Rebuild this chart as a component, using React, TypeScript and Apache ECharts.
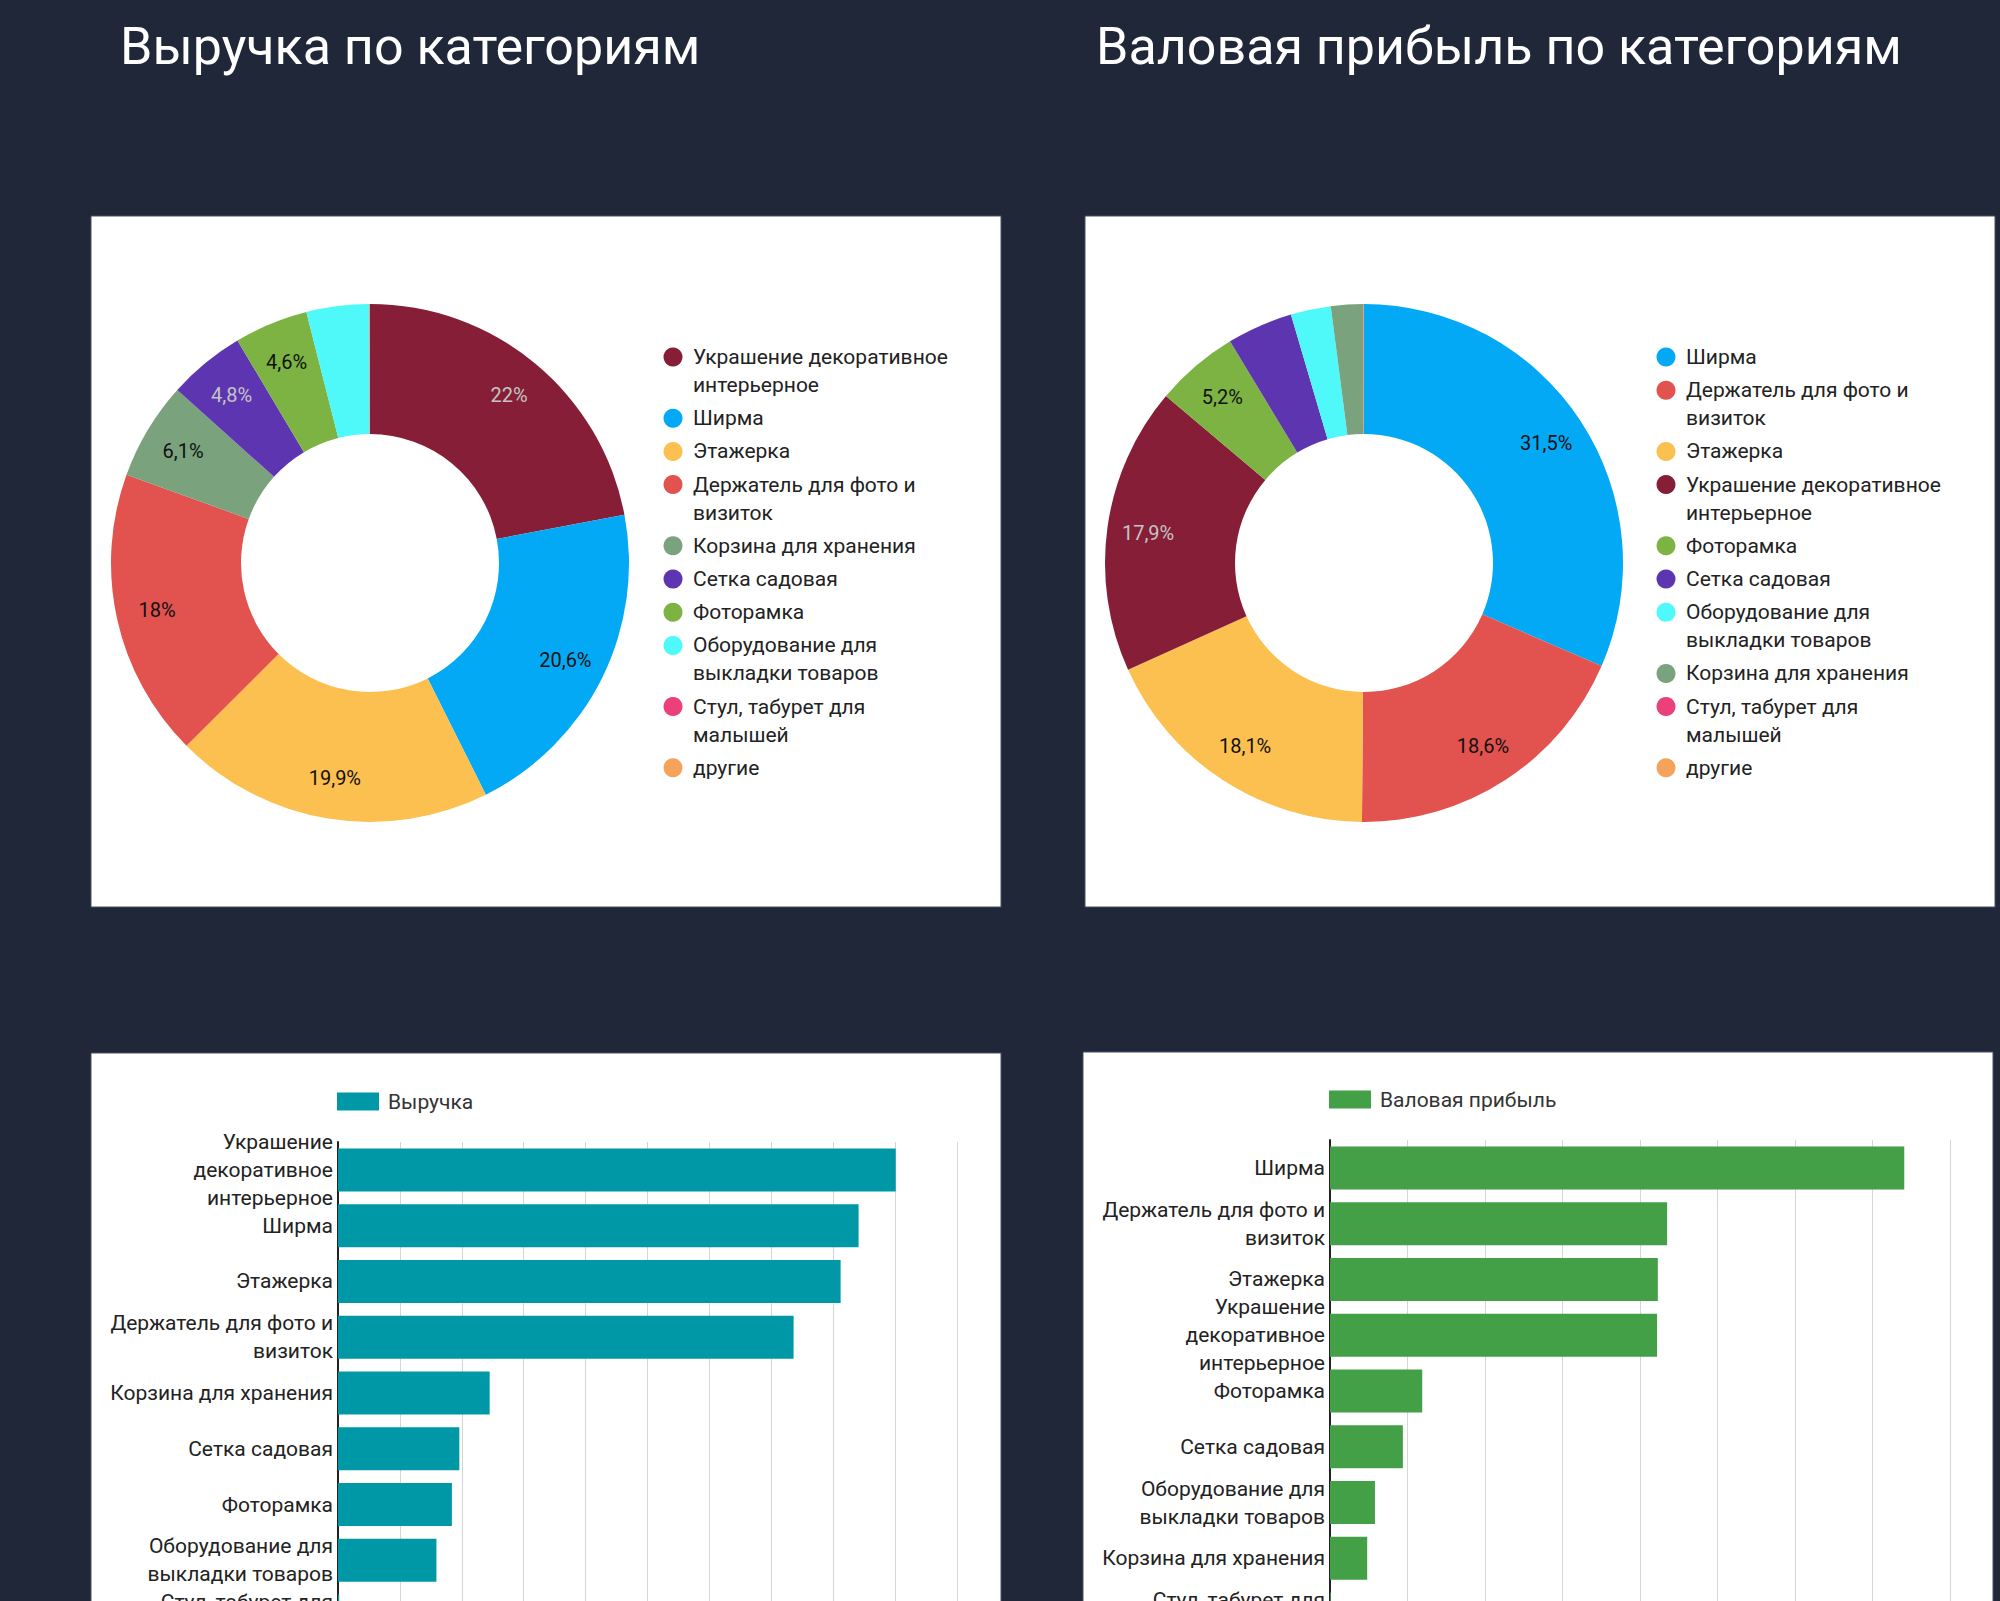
import React, { useEffect, useRef } from 'react';
import * as echarts from 'echarts';

// ---------- DATA ----------
const revenueCategories = [
  'Украшение декоративное интерьерное',
  'Ширма',
  'Этажерка',
  'Держатель для фото и визиток',
  'Корзина для хранения',
  'Сетка садовая',
  'Фоторамка',
  'Оборудование для выкладки товаров',
  'Стул, табурет для малышей',
  'другие',
];
const revenueShares = [22, 20.6, 19.9, 18, 6.1, 4.8, 4.6, 3.9, 0.03, 0.02];

const profitCategories = [
  'Ширма',
  'Держатель для фото и визиток',
  'Этажерка',
  'Украшение декоративное интерьерное',
  'Фоторамка',
  'Сетка садовая',
  'Оборудование для выкладки товаров',
  'Корзина для хранения',
  'Стул, табурет для малышей',
  'другие',
];
const profitShares = [31.5, 18.6, 18.1, 17.9, 5.2, 4.1, 2.5, 2.0, 0.03, 0.02];

const revenueBarCategories = [
  'Украшение декоративное интерьерное',
  'Ширма',
  'Этажерка',
  'Держатель для фото и визиток',
  'Корзина для хранения',
  'Сетка садовая',
  'Фоторамка',
  'Оборудование для выкладки товаров',
  'Стул, табурет для малышей',
];
const revenueBarValues = [9.01, 8.41, 8.12, 7.36, 2.45, 1.96, 1.84, 1.59, 0.02];

const profitBarCategories = [
  'Ширма',
  'Держатель для фото и визиток',
  'Этажерка',
  'Украшение декоративное интерьерное',
  'Фоторамка',
  'Сетка садовая',
  'Оборудование для выкладки товаров',
  'Корзина для хранения',
  'Стул, табурет для малышей',
];
const profitBarValues = [7.41, 4.35, 4.23, 4.22, 1.19, 0.94, 0.58, 0.48, 0.01];

const categoryColors: Record<string, string> = {
  'Украшение декоративное интерьерное': '#861E37',
  'Ширма': '#03A9F4',
  'Этажерка': '#FBC04F',
  'Держатель для фото и визиток': '#E2524E',
  'Корзина для хранения': '#79A27D',
  'Сетка садовая': '#5E35B1',
  'Фоторамка': '#7CB342',
  'Оборудование для выкладки товаров': '#50F9F9',
  'Стул, табурет для малышей': '#EC407A',
  'другие': '#F5A35B',
};

const darkSlices = ['Украшение декоративное интерьерное', 'Сетка садовая'];

const legendLabels: Record<string, string> = {
  'Украшение декоративное интерьерное': 'Украшение декоративное\nинтерьерное',
  'Держатель для фото и визиток': 'Держатель для фото и\nвизиток',
  'Оборудование для выкладки товаров': 'Оборудование для\nвыкладки товаров',
  'Стул, табурет для малышей': 'Стул, табурет для\nмалышей',
};

const axisLabels: Record<string, string> = {
  'Украшение декоративное интерьерное': 'Украшение\nдекоративное\nинтерьерное',
  'Держатель для фото и визиток': 'Держатель для фото и\nвизиток',
  'Оборудование для выкладки товаров': 'Оборудование для\nвыкладки товаров',
  'Стул, табурет для малышей': 'Стул, табурет для\nмалышей',
};

const titles = ['Выручка по категориям', 'Валовая прибыль по категориям'];
const barSeriesNames = ['Выручка', 'Валовая прибыль'];
const barColors = ['#0097A7', '#43A047'];

// ---------- LAYOUT HELPERS ----------
const FONT = 'Roboto';

function pieLegend(cats: string[], x: number, y0: number) {
  const els: any[] = [];
  let y = y0;
  cats.forEach((c) => {
    const text = legendLabels[c] || c;
    const nLines = text.split('\n').length;
    els.push({
      type: 'circle',
      z: 20,
      shape: { cx: x, cy: y, r: 9.5 },
      style: { fill: categoryColors[c] },
    });
    els.push({
      type: 'text',
      z: 20,
      x: x + 20,
      y: y - 14,
      style: {
        text,
        fontSize: 21,
        lineHeight: 28,
        fontFamily: FONT,
        fill: '#222222',
        align: 'left',
        verticalAlign: 'top',
      },
    });
    y += 33.2 + 28 * (nLines - 1);
  });
  return els;
}

function panel(x: number, y: number, w: number, h: number) {
  return {
    type: 'rect',
    z: -10,
    shape: { x, y, width: w, height: h },
    style: { fill: '#ffffff', stroke: '#4a5166', lineWidth: 1 },
  };
}

const pctLabel = (p: any) =>
  p.value >= 4.5 ? String(p.value).replace('.', ',') + '%' : '';

function pieSeries(name: string, cats: string[], shares: number[], cx: number) {
  return [
    {
      type: 'pie',
      name,
      center: [cx, 563],
      radius: [129, 259],
      startAngle: 90,
      clockwise: true,
      avoidLabelOverlap: false,
      label: { show: false },
      labelLine: { show: false },
      emphasis: { disabled: true },
      itemStyle: { borderWidth: 0 },
      data: cats.map((c, i) => ({
        name: c,
        value: shares[i],
        itemStyle: { color: categoryColors[c] },
      })),
    },
    {
      type: 'pie',
      name: name + ' (подписи)',
      center: [cx, 563],
      radius: [171, 259],
      startAngle: 90,
      clockwise: true,
      silent: true,
      avoidLabelOverlap: false,
      emphasis: { disabled: true },
      itemStyle: { color: 'rgba(0,0,0,0)', borderWidth: 0 },
      labelLine: { show: false },
      label: {
        show: true,
        position: 'inside',
        formatter: pctLabel,
        fontSize: 20,
        fontFamily: FONT,
      },
      data: cats.map((c, i) => ({
        name: c,
        value: shares[i],
        label: { color: darkSlices.includes(c) ? '#c4c4c4' : '#111111' },
      })),
    },
  ];
}

function valueAxis(gridIndex: number, max: number) {
  return {
    type: 'value',
    gridIndex,
    min: 0,
    max,
    interval: 1,
    axisLabel: { show: false },
    axisLine: { show: false },
    axisTick: { show: false },
    splitLine: { show: true, lineStyle: { color: '#d6d6d6', width: 1 } },
  };
}

function categoryAxis(gridIndex: number, data: string[]) {
  return {
    type: 'category',
    gridIndex,
    data,
    inverse: true,
    axisLine: { show: true, lineStyle: { color: '#222222', width: 2 } },
    axisTick: { show: false },
    axisLabel: {
      interval: 0,
      hideOverlap: false,
      formatter: (v: string) => axisLabels[v] || v,
      fontSize: 21,
      lineHeight: 28,
      color: '#222222',
      fontFamily: FONT,
      margin: 5,
    },
  };
}

const legendText = { fontSize: 21, color: '#333333', fontFamily: FONT, padding: [0, 0, 0, 4] };

export default function App() {
  const ref = useRef<HTMLDivElement>(null);

  useEffect(() => {
    if (!ref.current) return;
    const chart = echarts.init(ref.current, null, { renderer: 'svg' });
    const option: any = {
      animation: false,
      backgroundColor: '#202739',
      textStyle: { fontFamily: FONT },
      title: [
        {
          text: titles[0],
          left: 120,
          top: 20,
          padding: 0,
          textStyle: { color: '#ffffff', fontSize: 52, fontWeight: 'normal', fontFamily: FONT },
        },
        {
          text: titles[1],
          left: 1096,
          top: 20,
          padding: 0,
          textStyle: { color: '#ffffff', fontSize: 52, fontWeight: 'normal', fontFamily: FONT },
        },
      ],
      graphic: {
        elements: [
          panel(91, 216, 910, 691),
          panel(1085, 216, 910, 691),
          panel(91, 1053, 910, 620),
          panel(1083, 1052, 910, 620),
          ...pieLegend(revenueCategories, 673, 357),
          ...pieLegend(profitCategories, 1666, 357),
        ],
      },
      legend: [
        {
          data: [barSeriesNames[0]],
          left: 337,
          top: 1091,
          padding: 0,
          itemWidth: 42,
          itemHeight: 18,
          icon: 'rect',
          selectedMode: false,
          textStyle: legendText,
        },
        {
          data: [barSeriesNames[1]],
          left: 1329,
          top: 1089,
          padding: 0,
          itemWidth: 42,
          itemHeight: 18,
          icon: 'rect',
          selectedMode: false,
          textStyle: legendText,
        },
      ],
      grid: [
        { left: 338, top: 1142, width: 619, height: 502, containLabel: false, outerBoundsMode: 'none' },
        { left: 1330, top: 1140, width: 620, height: 502, containLabel: false, outerBoundsMode: 'none' },
      ],
      xAxis: [valueAxis(0, 10), valueAxis(1, 8)],
      yAxis: [categoryAxis(0, revenueBarCategories), categoryAxis(1, profitBarCategories)],
      series: [
        ...pieSeries('Выручка по категориям', revenueCategories, revenueShares, 370),
        ...pieSeries('Валовая прибыль по категориям', profitCategories, profitShares, 1364),
        {
          type: 'bar',
          name: barSeriesNames[0],
          xAxisIndex: 0,
          yAxisIndex: 0,
          data: revenueBarValues,
          barWidth: 43,
          itemStyle: { color: barColors[0] },
          emphasis: { disabled: true },
        },
        {
          type: 'bar',
          name: barSeriesNames[1],
          xAxisIndex: 1,
          yAxisIndex: 1,
          data: profitBarValues,
          barWidth: 43,
          itemStyle: { color: barColors[1] },
          emphasis: { disabled: true },
        },
      ],
    };
    chart.setOption(option);
    return () => chart.dispose();
  }, []);

  return (
    <div
      style={{
        position: 'fixed',
        left: 0,
        top: 0,
        width: 2000,
        height: 1601,
        overflow: 'hidden',
        background: '#202739',
      }}
    >
      <div ref={ref} style={{ width: 2000, height: 1601 }} />
    </div>
  );
}
